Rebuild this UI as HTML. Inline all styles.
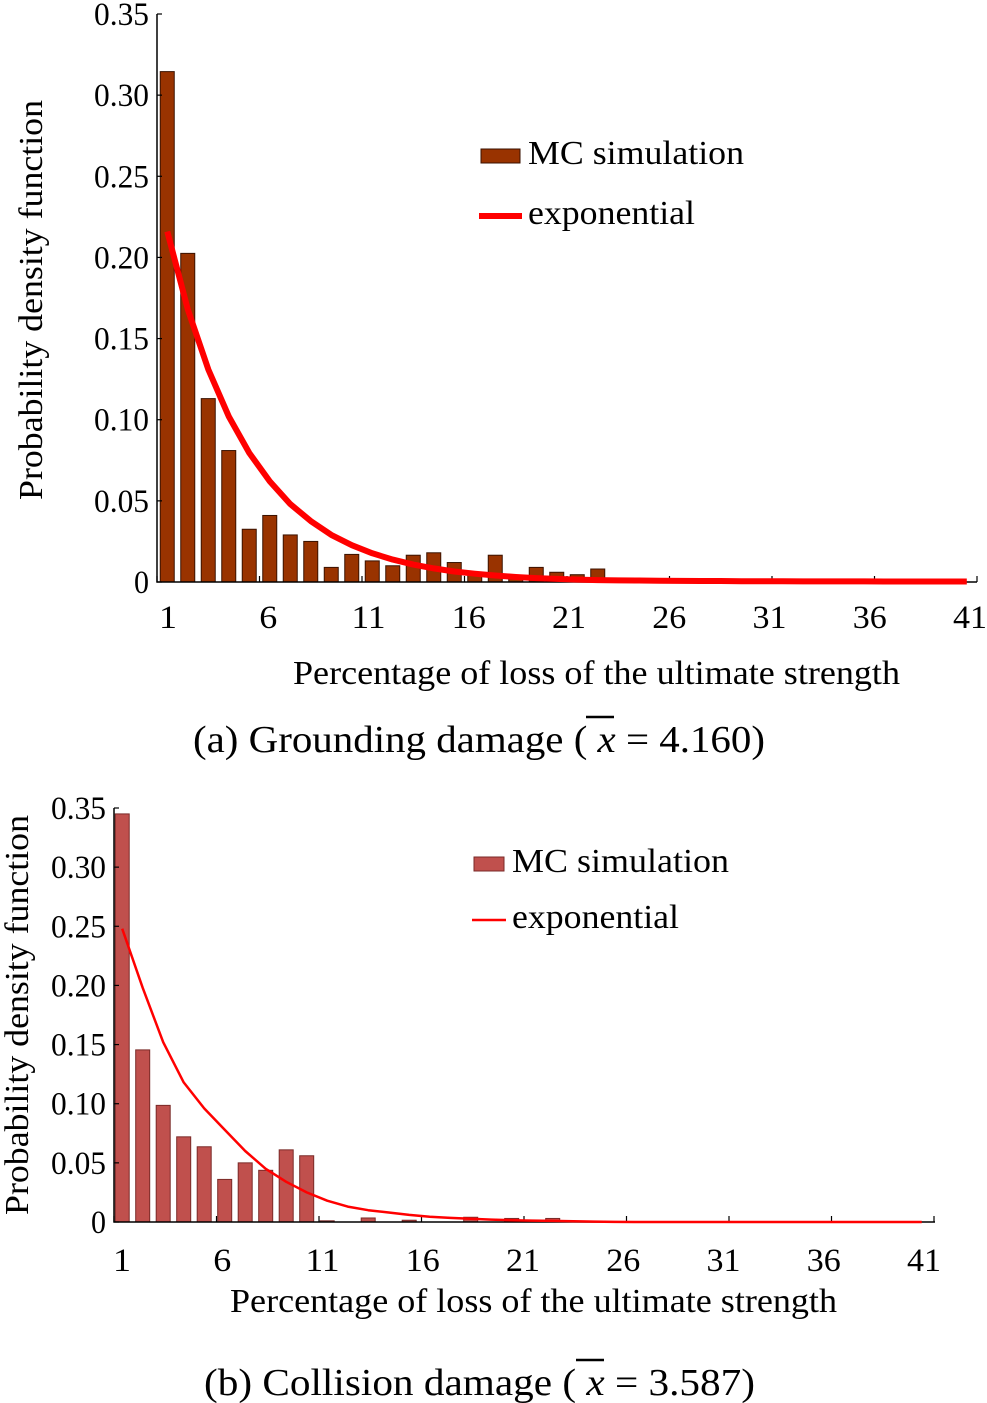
<!DOCTYPE html>
<html><head><meta charset="utf-8"><style>
html,body{margin:0;padding:0;background:#fff}
svg{display:block;font-family:"Liberation Serif",serif}
</style></head><body>
<svg id="s" width="987" height="1403" viewBox="0 0 987 1403" xmlns="http://www.w3.org/2000/svg">
<g id="ga"></g>
<g id="gb"></g>
</svg>
<script>
const xTicks=[1,6,11,16,21,26,31,36,41];
const yTicksA=[0,0.05,0.10,0.15,0.20,0.25,0.30,0.35];
const yTickLabels=["0","0.05","0.10","0.15","0.20","0.25","0.30","0.35"];
const barsA=[0.3145,0.2025,0.113,0.081,0.0325,0.041,0.029,0.025,0.009,0.017,0.013,0.010,0.0165,0.018,0.012,0.006,0.0165,0.002,0.009,0.006,0.0045,0.008,0.001,0.0005,0,0,0,0,0,0,0,0,0,0,0,0,0,0,0,0];
const curveA=[0.216,0.168,0.131,0.102,0.0795,0.062,0.048,0.0375,0.029,0.0227,0.0177,0.0138,0.0107,0.0084,0.0065,0.0051,0.0040,0.0031,0.0024,0.0019,0.0015,0.0012,0.001,0.0009,0.0008,0.0007,0.0006,0.0006,0.0005,0.0005,0.0005,0.0004,0.0004,0.0004,0.0004,0.0003,0.0003,0.0003,0.0003,0.0003];
const barsB=[0.345,0.1455,0.0986,0.072,0.0636,0.036,0.050,0.0437,0.061,0.056,0.001,0,0.0034,0,0.0015,0,0,0.004,0,0.003,0,0.003,0,0,0,0,0,0,0,0,0,0,0,0,0,0,0,0,0,0];
const curveB=[0.248,0.198,0.152,0.118,0.096,0.078,0.060,0.045,0.034,0.025,0.018,0.013,0.010,0.008,0.006,0.0045,0.0035,0.0027,0.002,0.0015,0.0012,0.0009,0.0006,0.0003,0.0001,0,0,0,0,0,0,0,0,0,0,0,0,0,0,0];

const NS="http://www.w3.org/2000/svg";
function mk(p,tag,at,txt){const e=document.createElementNS(NS,tag);for(const k in at)e.setAttribute(k,at[k]);if(txt!==undefined)e.textContent=txt;p.appendChild(e);return e;}
function tw(s){let w=0;for(const ch of s)w+=(ch==='.')?8:16;return w;}

function chart(g,cfg,bars,curve){
  const xs=v=>cfg.axL+(v-1)*cfg.unit;
  const ys=v=>cfg.y0-v*(cfg.y0-cfg.yTop)/0.35;
  const bc=i=>xs(1+i+cfg.off);
  bars.forEach((v,i)=>{if(v<=0)return;
    const r=mk(g,'rect',{x:bc(i)-7,y:ys(v),width:14,height:cfg.y0-ys(v),fill:cfg.bar,stroke:cfg.barStroke,'stroke-width':1});
    
    
  });
  const ax=mk(g,'path',{d:`M${cfg.axL} ${cfg.yTop}V${cfg.y0}H${cfg.axR}`,fill:'none',stroke:'#000','stroke-width':1.5});
  
  
  yTicksA.forEach((t,i)=>{
    mk(g,'line',{x1:cfg.axL,x2:cfg.axL+5,y1:ys(t),y2:ys(t),stroke:'#000','stroke-width':1.2});
    const s=yTickLabels[i];
    const tl=mk(g,'text',{x:cfg.axL-8,y:ys(t)+11,'text-anchor':'end','font-size':33,textLength:tw(s)-1,lengthAdjust:'spacingAndGlyphs'},s);
    
    
  });
  xTicks.forEach(t=>{
    mk(g,'line',{x1:xs(t),x2:xs(t),y1:cfg.y0,y2:cfg.y0-6,stroke:'#000','stroke-width':1.2});
    const s=String(t);
    const lx=cfg.lab1+(t-1)*cfg.labUnit;
    const tl=mk(g,'text',{x:lx,y:cfg.xLabY,'text-anchor':'middle','font-size':33,textLength:tw(s)+2,lengthAdjust:'spacingAndGlyphs'},s);
    
    
  });
  const d=curve.map((v,i)=>(i?'L':'M')+bc(i).toFixed(1)+' '+ys(v).toFixed(1)).join('');
  const c=mk(g,'path',{d:d,fill:'none',stroke:'#ff0000','stroke-width':cfg.lw,'stroke-linejoin':'round'});
  
  
  const lp=mk(g,'rect',{x:cfg.lgX,y:cfg.lgY1-7,width:cfg.lgW,height:14,fill:cfg.bar,stroke:cfg.barStroke,'stroke-width':1});
  
  
  const lt1=mk(g,'text',{x:cfg.lgTx,y:cfg.lgY1+8,'font-size':cfg.lfs,textLength:cfg.lgT1W,lengthAdjust:'spacingAndGlyphs'},'MC simulation');
  
  
  const ll=mk(g,'line',{x1:cfg.lgX-2,x2:cfg.lgX+cfg.lgW+2,y1:cfg.lgY2,y2:cfg.lgY2,stroke:'#ff0000','stroke-width':cfg.lw});
  
  
  const lt2=mk(g,'text',{x:cfg.lgTx,y:cfg.lgY2+8,'font-size':cfg.lfs,textLength:cfg.lgT2W,lengthAdjust:'spacingAndGlyphs'},'exponential');
  
  
  const xt=mk(g,'text',{x:cfg.xtX,y:cfg.xtY,'font-size':34,textLength:607,lengthAdjust:'spacingAndGlyphs'},'Percentage of loss of the ultimate strength');
  
  
  const yt=mk(g,'text',{x:0,y:0,'font-size':34,'text-anchor':'middle',textLength:400,lengthAdjust:'spacingAndGlyphs',transform:`translate(${cfg.ytX},${cfg.ytY}) rotate(-90)`},'Probability density function');
  
  
  const cap=mk(g,'text',{x:cfg.capX,y:cfg.capY,'font-size':38,textLength:cfg.capW,lengthAdjust:'spacingAndGlyphs'});
  
  
  cap.innerHTML=cfg.cap;
}

chart(document.getElementById('ga'),{axL:157,unit:20.5,off:0.5,lab1:168,labUnit:20.05,y0:582,yTop:14,axR:977,xLabY:628,
  bar:'#993300',barStroke:'#3a1200',lw:6,lgX:481,lgW:39,lgY1:156,lgY2:216,lgTx:528,lgT1W:216,lgT2W:167,lfs:34,
  xtX:293,xtY:684,ytX:42,ytY:300,capX:193,capY:752,capW:572,
  cap:'(a) Grounding damage ( <tspan font-style="italic">x</tspan> = 4.160)'},barsA,curveA);
chart(document.getElementById('gb'),{axL:114,unit:20.5,off:0.4,lab1:122,labUnit:20.05,y0:1222,yTop:808,axR:935,xLabY:1271,
  bar:'#c0504d',barStroke:'#7a2a28',lw:2.5,lgX:474,lgW:30,lgY1:864,lgY2:920,lgTx:512,lgT1W:217,lgT2W:167,lfs:34,
  xtX:230,xtY:1312,ytX:28,ytY:1015,capX:204,capY:1395,capW:551,
  cap:'(b) Collision damage ( <tspan font-style="italic">x</tspan> = 3.587)'},barsB,curveB);
const s=document.getElementById('s');
const o1=mk(s,'line',{x1:586,x2:614,y1:717,y2:717,stroke:'#000','stroke-width':2.5});


const o2=mk(s,'line',{x1:576,x2:604,y1:1360,y2:1360,stroke:'#000','stroke-width':2.5});


</script>
</body></html>
